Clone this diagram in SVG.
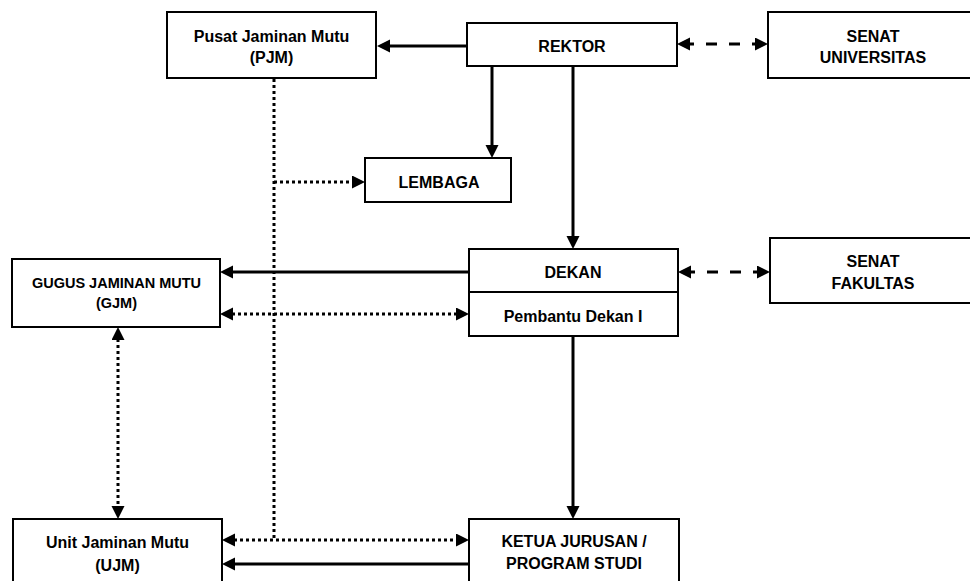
<svg xmlns="http://www.w3.org/2000/svg" width="970" height="581" viewBox="0 0 970 581">
<style>
.box{fill:#fff;stroke:#000;stroke-width:2}
.t{font-family:"Liberation Sans",Arial,sans-serif;font-weight:bold;font-size:16px;text-anchor:middle;fill:#000}
.ts{font-size:14.5px}
.solid{fill:none;stroke:#000;stroke-width:3}
.dash{fill:none;stroke:#000;stroke-width:3;stroke-dasharray:11 12}
.dot{fill:none;stroke:#000;stroke-width:3;stroke-dasharray:3 3}
</style>
<defs>
<marker id="ah" markerUnits="userSpaceOnUse" markerWidth="14" markerHeight="14" refX="7" refY="6.5" orient="auto-start-reverse">
<path d="M0,0 L13,6.5 L0,13 z" fill="#000"/>
</marker>
</defs>
<rect width="970" height="581" fill="#fff"/>
<g id="connectors">
<path class="solid" d="M467,46 H383" marker-end="url(#ah)"/>
<path class="dash" d="M683,44 H762" marker-start="url(#ah)" marker-end="url(#ah)"/>
<path class="solid" d="M492,66 V152" marker-end="url(#ah)"/>
<path class="solid" d="M573,66 V243" marker-end="url(#ah)"/>
<path class="dash" d="M684,272 H764" marker-start="url(#ah)" marker-end="url(#ah)"/>
<path class="solid" d="M469,272 H226" marker-end="url(#ah)"/>
<path class="dot" d="M226,314 H463" marker-start="url(#ah)" marker-end="url(#ah)"/>
<path class="solid" d="M573,336 V513" marker-end="url(#ah)"/>
<path class="dot" d="M118,333 V513" marker-start="url(#ah)" marker-end="url(#ah)"/>
<path class="dot" d="M274,79 V540"/>
<path class="dot" d="M274,182 H359" marker-end="url(#ah)"/>
<path class="dot" d="M228,540 H463" marker-start="url(#ah)" marker-end="url(#ah)"/>
<path class="solid" d="M469,564 H228" marker-end="url(#ah)"/>
</g>
<g id="pjm">
<rect class="box" x="167" y="12" width="209" height="66"/>
<text class="t" x="271.5" y="42">Pusat Jaminan Mutu</text>
<text class="t" x="271.5" y="63">(PJM)</text>
</g>
<g id="rektor">
<rect class="box" x="467" y="23" width="210" height="43"/>
<text class="t" x="572" y="52">REKTOR</text>
</g>
<g id="senat-universitas">
<rect class="box" x="768" y="12" width="212" height="66"/>
<text class="t" x="873" y="42">SENAT</text>
<text class="t" x="873" y="63">UNIVERSITAS</text>
</g>
<g id="lembaga">
<rect class="box" x="365" y="158" width="146" height="44"/>
<text class="t" x="439" y="188">LEMBAGA</text>
</g>
<g id="dekan">
<rect class="box" x="469" y="249" width="209" height="87"/>
<line x1="469" y1="292" x2="678" y2="292" stroke="#000" stroke-width="2"/>
<text class="t" x="573" y="278">DEKAN</text>
<text class="t" x="573" y="322">Pembantu Dekan I</text>
</g>
<g id="senat-fakultas">
<rect class="box" x="770" y="238" width="212" height="65"/>
<text class="t" x="873" y="267">SENAT</text>
<text class="t" x="873" y="289">FAKULTAS</text>
</g>
<g id="gjm">
<rect class="box" x="12" y="259" width="208" height="68"/>
<text class="t ts" x="116.5" y="288">GUGUS JAMINAN MUTU</text>
<text class="t ts" x="116.5" y="308">(GJM)</text>
</g>
<g id="ujm">
<rect class="box" x="13" y="519" width="209" height="80"/>
<text class="t" x="117.5" y="548">Unit Jaminan Mutu</text>
<text class="t" x="117.5" y="571">(UJM)</text>
</g>
<g id="ketua">
<rect class="box" x="469" y="519" width="210" height="80"/>
<text class="t" x="574" y="547">KETUA JURUSAN /</text>
<text class="t" x="574" y="569">PROGRAM STUDI</text>
</g>
</svg>
